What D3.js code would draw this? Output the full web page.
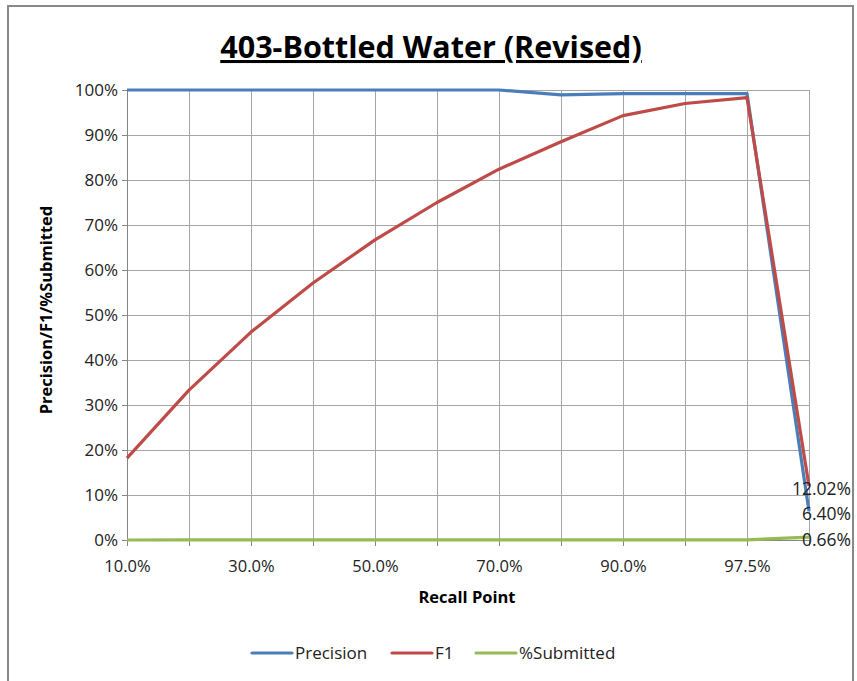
<!DOCTYPE html>
<html>
<head>
  <title>403-Bottled Water (Revised)</title>
  <script src="https://d3js.org/d3.v7.min.js"></script>
  <style>
    body { margin: 0; padding: 0; background: white; overflow: hidden; }
    svg { display: block; font-family: "Open Sans", "Liberation Sans", sans-serif; }
  </style>
</head>
<body>
  <svg width="857" height="681"></svg>

  <script>
    const recallPoints = ["10.0%", "20.0%", "30.0%", "40.0%", "50.0%", "60.0%", "70.0%", "80.0%", "90.0%", "95.0%", "97.5%", "100.0%"];
    const precision = [1.0, 1.0, 1.0, 1.0, 1.0, 1.0, 1.0, 0.989, 0.992, 0.992, 0.992, 0.064];
    const f1 = [0.182, 0.333, 0.462, 0.571, 0.667, 0.750, 0.824, 0.885, 0.943, 0.970, 0.983, 0.1202];
    const submitted = [0.0000, 0.0001, 0.0001, 0.0002, 0.0002, 0.0003, 0.0003, 0.0003, 0.0004, 0.0004, 0.0004, 0.0066];
    const yTicks = [0, 0.1, 0.2, 0.3, 0.4, 0.5, 0.6, 0.7, 0.8, 0.9, 1.0];
    const shownLabels = ["10.0%", "30.0%", "50.0%", "70.0%", "90.0%", "97.5%"];

    const series = [
      { name: "Precision", values: precision, color: "#4a7ebb", label: "6.40%" },
      { name: "F1", values: f1, color: "#be4b48", label: "12.02%" },
      { name: "%Submitted", values: submitted, color: "#98b954", label: "0.66%" }
    ];

    const svg = d3.select("svg"),
          margin = { top: 90, left: 127 },
          width = 682,
          height = 450;

    // chart frame
    svg.append("rect")
      .attr("x", 8).attr("y", 6)
      .attr("width", 845).attr("height", 690)
      .attr("fill", "white")
      .attr("stroke", "#898989")
      .attr("stroke-width", 2);

    const g = svg.append("g").attr("transform", "translate(" + margin.left + "," + margin.top + ")");

    const x = d3.scalePoint()
        .domain(recallPoints)
        .range([0, width]);

    const y = d3.scaleLinear()
        .domain([0, 1])
        .range([height, 0]);

    // grid
    g.selectAll(".hgrid")
      .data(yTicks)
      .enter().append("line")
        .attr("x1", 0).attr("x2", width)
        .attr("y1", d => Math.round(y(d)) + 0.5)
        .attr("y2", d => Math.round(y(d)) + 0.5)
        .attr("stroke", "#a6a6a6");

    g.selectAll(".vgrid")
      .data(recallPoints)
      .enter().append("line")
        .attr("x1", d => Math.round(x(d)) + 0.5)
        .attr("x2", d => Math.round(x(d)) + 0.5)
        .attr("y1", 0).attr("y2", height + 6)
        .attr("stroke", "#a6a6a6");

    // y axis
    const yAxis = g.append("g")
        .call(d3.axisLeft(y).tickValues(yTicks).tickFormat(d3.format(".0%")).tickSize(5).tickPadding(4));
    yAxis.select(".domain").attr("stroke", "#868686");
    yAxis.selectAll(".tick line").attr("stroke", "#868686");
    yAxis.selectAll("text")
        .attr("font-size", "17px")
        .attr("fill", "#222")
        .attr("font-family", "Open Sans, sans-serif");

    // x axis
    const xAxis = g.append("g")
        .attr("transform", "translate(0," + height + ")")
        .call(d3.axisBottom(x).tickSize(6).tickPadding(14)
          .tickFormat(d => shownLabels.indexOf(d) >= 0 ? d : ""));
    xAxis.select(".domain").attr("stroke", "#868686");
    xAxis.selectAll(".tick line").attr("stroke", "#868686");
    xAxis.selectAll("text")
        .attr("font-size", "16.5px")
        .attr("fill", "#222")
        .attr("font-family", "Open Sans, sans-serif");

    // lines
    const line = d3.line()
        .x((d, i) => x(recallPoints[i]))
        .y(d => y(d));

    series.forEach(s => {
      g.append("path")
        .datum(s.values)
        .attr("fill", "none")
        .attr("stroke", s.color)
        .attr("stroke-width", 3.2)
        .attr("stroke-linejoin", "round")
        .attr("d", line);
    });

    // end labels
    series.forEach(s => {
      g.append("text")
        .attr("x", 851 - margin.left)
        .attr("y", y(s.values[s.values.length - 1]) + 3)
        .attr("dy", "0.35em")
        .attr("text-anchor", "end")
        .attr("font-size", "17.5px")
        .attr("fill", "#222")
        .text(s.label);
    });

    // title
    svg.append("text")
      .attr("x", 431)
      .attr("y", 58)
      .attr("text-anchor", "middle")
      .attr("font-family", "Open Sans, sans-serif")
      .attr("font-size", "30.5px")
      .attr("font-weight", "bold")
      .attr("text-decoration", "underline")
      .attr("fill", "#000")
      .text("403-Bottled Water (Revised)");

    // axis titles
    svg.append("text")
      .attr("x", margin.left + width / 2 - 1)
      .attr("y", 603)
      .attr("text-anchor", "middle")
      .attr("font-size", "16.5px")
      .attr("font-weight", "bold")
      .attr("fill", "#000")
      .text("Recall Point");

    svg.append("text")
      .attr("transform", "translate(52," + (margin.top + height / 2 - 5) + ") rotate(-90)")
      .attr("text-anchor", "middle")
      .attr("font-size", "16.5px")
      .attr("font-weight", "bold")
      .attr("fill", "#000")
      .text("Precision/F1/%Submitted");

    // legend
    const legendX = [252, 392, 476];
    const legend = svg.append("g");
    series.forEach((s, i) => {
      legend.append("line")
        .attr("x1", legendX[i]).attr("x2", legendX[i] + 40)
        .attr("y1", 653).attr("y2", 653)
        .attr("stroke", s.color)
        .attr("stroke-width", 3.2)
        .attr("stroke-linecap", "round");
      legend.append("text")
        .attr("x", legendX[i] + 43)
        .attr("y", 653)
        .attr("dy", "0.35em")
        .attr("font-size", "17px")
        .attr("fill", "#222")
        .text(s.name);
    });
  </script>
</body>
</html>
